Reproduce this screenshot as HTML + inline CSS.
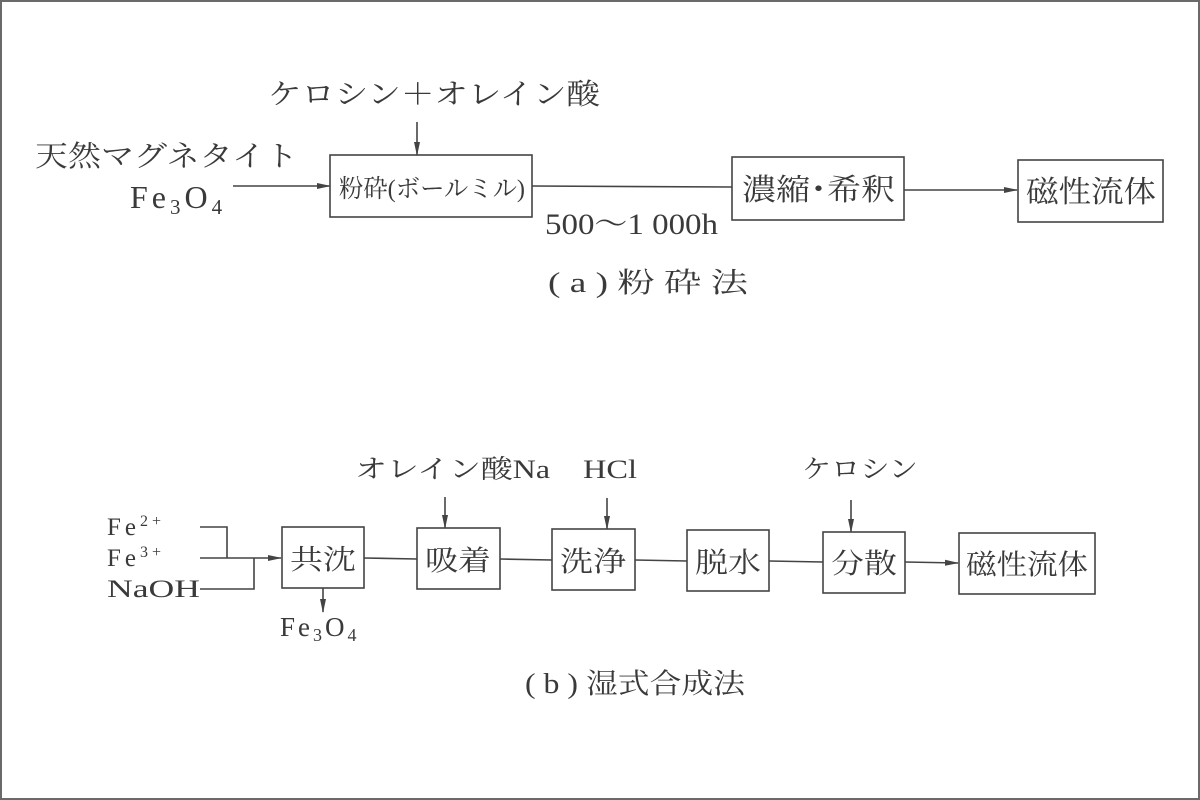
<!DOCTYPE html>
<html><head><meta charset="utf-8"><style>
html,body{margin:0;padding:0;background:#fff}
svg{display:block}
text{font-family:"Liberation Serif","Noto Serif CJK JP","Noto Serif CJK SC",serif;fill:#3a3a3a}
</style></head><body>
<svg width="1200" height="800" viewBox="0 0 1200 800" xmlns="http://www.w3.org/2000/svg">
<defs><marker id="ah" markerWidth="14" markerHeight="8" refX="13" refY="4" orient="auto" markerUnits="userSpaceOnUse"><path d="M0,1 L14,4 L0,7 Z" fill="#444"/></marker></defs>
<rect x="1" y="1" width="1198" height="798" fill="#fff" stroke="#6a6a6a" stroke-width="2"/>
<g stroke="#444" stroke-width="1.6" fill="none">
<rect x="330" y="155" width="202" height="62"/>
<rect x="732" y="157" width="172" height="63"/>
<rect x="1018" y="160" width="145" height="62"/>
<line x1="417" y1="122" x2="417" y2="155" marker-end="url(#ah)"/>
<line x1="233" y1="186" x2="330" y2="186" marker-end="url(#ah)"/>
<line x1="532" y1="186" x2="732" y2="187"/>
<line x1="904" y1="190" x2="1017" y2="190" marker-end="url(#ah)"/>
<rect x="282" y="527" width="82" height="61"/>
<rect x="417" y="528" width="83" height="61"/>
<rect x="552" y="529" width="83" height="61"/>
<rect x="687" y="530" width="82" height="61"/>
<rect x="823" y="532" width="82" height="61"/>
<rect x="959" y="533" width="136" height="61"/>
<polyline points="200,527 227,527 227,558"/>
<line x1="200" y1="558" x2="281" y2="558" marker-end="url(#ah)"/>
<polyline points="200,589 254,589 254,558"/>
<line x1="323" y1="588" x2="323" y2="612" marker-end="url(#ah)"/>
<line x1="364" y1="558" x2="417" y2="559"/>
<line x1="500" y1="559" x2="552" y2="560"/>
<line x1="635" y1="560" x2="687" y2="561"/>
<line x1="769" y1="561" x2="823" y2="562"/>
<line x1="905" y1="562" x2="958" y2="563" marker-end="url(#ah)"/>
<line x1="445" y1="497" x2="445" y2="528" marker-end="url(#ah)"/>
<line x1="607" y1="498" x2="607" y2="529" marker-end="url(#ah)"/>
<line x1="851" y1="500" x2="851" y2="532" marker-end="url(#ah)"/>
</g>
<text x="268" y="104" font-size="29" textLength="332" lengthAdjust="spacingAndGlyphs">ケロシン＋オレイン酸</text>
<text x="35" y="166" font-size="29" textLength="263" lengthAdjust="spacingAndGlyphs">天然マグネタイト</text>
<text x="130" y="208" font-size="32" letter-spacing="4">Fe<tspan font-size="21" dy="6">3</tspan><tspan dy="-6">O</tspan><tspan font-size="21" dy="6">4</tspan></text>
<text x="339" y="197" font-size="25" textLength="186" lengthAdjust="spacingAndGlyphs">粉砕(ボールミル)</text>
<text x="742" y="200" font-size="30" textLength="153" lengthAdjust="spacingAndGlyphs">濃縮･希釈</text>
<text x="1026" y="202" font-size="30" textLength="130" lengthAdjust="spacingAndGlyphs">磁性流体</text>
<text x="545" y="234" font-size="30" textLength="173" lengthAdjust="spacingAndGlyphs">500～1 000h</text>
<text x="548" y="292" font-size="28" textLength="200" lengthAdjust="spacingAndGlyphs">( a ) 粉 砕 法</text>
<text x="355" y="478" font-size="26" textLength="195" lengthAdjust="spacingAndGlyphs">オレイン酸Na</text>
<text x="583" y="478" font-size="26" textLength="54" lengthAdjust="spacingAndGlyphs">HCl</text>
<text x="802" y="478" font-size="26" textLength="116" lengthAdjust="spacingAndGlyphs">ケロシン</text>
<text x="107" y="535" font-size="25" letter-spacing="4">Fe<tspan font-size="16" dy="-9">2+</tspan></text>
<text x="107" y="566" font-size="25" letter-spacing="4">Fe<tspan font-size="16" dy="-9">3+</tspan></text>
<text x="107" y="597" font-size="25" textLength="93" lengthAdjust="spacingAndGlyphs">NaOH</text>
<text x="280" y="636" font-size="27" letter-spacing="3">Fe<tspan font-size="18" dy="5">3</tspan><tspan dy="-5">O</tspan><tspan font-size="18" dy="5">4</tspan></text>
<text x="290" y="569" font-size="28" textLength="66" lengthAdjust="spacingAndGlyphs">共沈</text>
<text x="425" y="570" font-size="28" textLength="66" lengthAdjust="spacingAndGlyphs">吸着</text>
<text x="560" y="571" font-size="28" textLength="66" lengthAdjust="spacingAndGlyphs">洗浄</text>
<text x="695" y="572" font-size="28" textLength="66" lengthAdjust="spacingAndGlyphs">脱水</text>
<text x="831" y="573" font-size="28" textLength="66" lengthAdjust="spacingAndGlyphs">分散</text>
<text x="966" y="574" font-size="28" textLength="122" lengthAdjust="spacingAndGlyphs">磁性流体</text>
<text x="525" y="693" font-size="28" textLength="220" lengthAdjust="spacingAndGlyphs">( b ) 湿式合成法</text>
</svg>
</body></html>
